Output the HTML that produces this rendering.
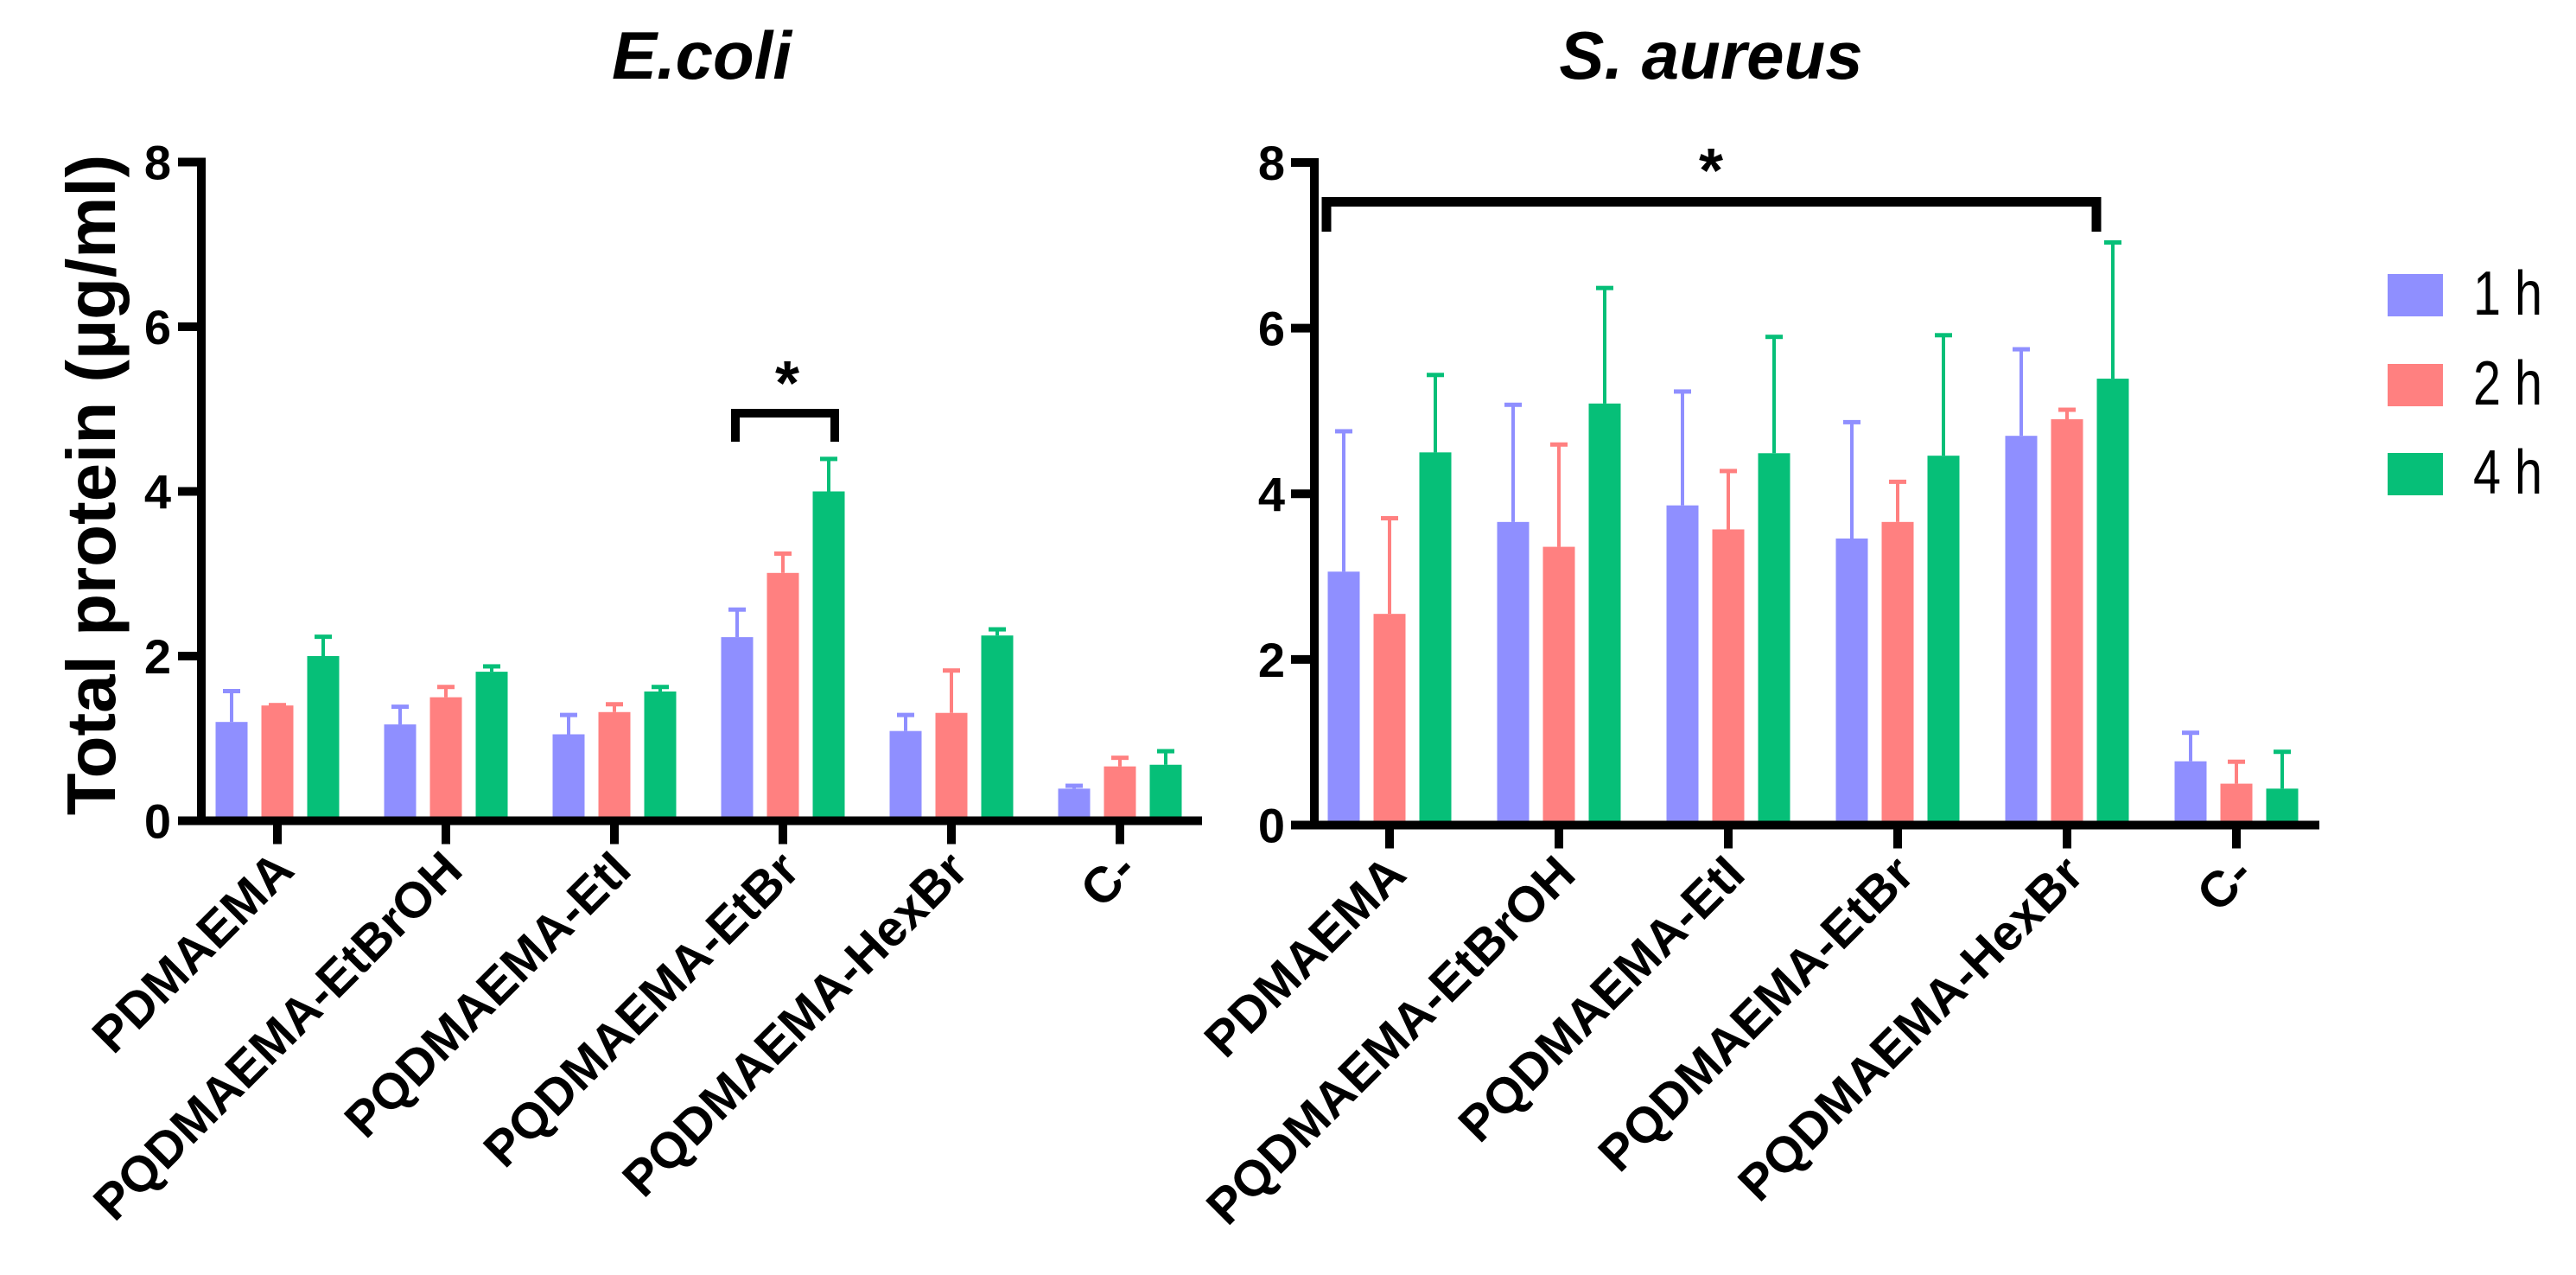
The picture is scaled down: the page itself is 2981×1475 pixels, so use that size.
<!DOCTYPE html>
<html><head><meta charset="utf-8"><style>
html,body{margin:0;padding:0;background:#fff;}
svg{display:block;}
text{font-family:"Liberation Sans",Arial,sans-serif;}
</style></head><body>
<svg id="chart" width="2981" height="1475" viewBox="0 0 2981 1475" xmlns="http://www.w3.org/2000/svg">
<g id="left"></g>
<g id="right"></g>
<g id="legend"></g>
</svg>
<script>
const categories = ["PDMAEMA","PQDMAEMA-EtBrOH","PQDMAEMA-EtI","PQDMAEMA-EtBr","PQDMAEMA-HexBr","C-"];
const seriesNames = ["1 h","2 h","4 h"];
const yTicks = [0,2,4,6,8];
const ecoli1h = [1.20,1.17,1.05,2.23,1.09,0.39];
const ecoli1hErr = [0.38,0.22,0.24,0.34,0.20,0.04];
const ecoli2h = [1.40,1.50,1.32,3.01,1.31,0.66];
const ecoli2hErr = [0.01,0.13,0.10,0.24,0.52,0.11];
const ecoli4h = [2.00,1.81,1.57,4.00,2.25,0.68];
const ecoli4hErr = [0.24,0.07,0.06,0.40,0.08,0.17];
const aureus1h = [3.06,3.66,3.86,3.46,4.70,0.77];
const aureus1hErr = [1.70,1.42,1.38,1.41,1.05,0.35];
const aureus2h = [2.55,3.36,3.57,3.66,4.90,0.50];
const aureus2hErr = [1.16,1.24,0.71,0.49,0.12,0.27];
const aureus4h = [4.50,5.09,4.49,4.46,5.39,0.44];
const aureus4hErr = [0.94,1.40,1.41,1.46,1.65,0.45];

const NS="http://www.w3.org/2000/svg";
const colors=["#8F8FFF","#FF8080","#06BF78"];
function mk(parent,tag,attrs){const e=document.createElementNS(NS,tag);for(const k in attrs)e.setAttribute(k,attrs[k]);parent.appendChild(e);return e;}

function panel(g,cfg,data,errs,prefix){
  const y=v=>cfg.y0-v*(cfg.y0-cfg.y8)/8;
  const xc=i=>cfg.x0+i*cfg.step;
  for(let s=0;s<3;s++){
    for(let i=0;i<categories.length;i++){
      const cx=xc(i)+(s-1)*53, v=data[s][i], e=errs[s][i];
      const l=mk(g,"line",{x1:cx,x2:cx,y1:y(v),y2:y(v+e),stroke:colors[s],"stroke-width":4});
      
      
      const c=mk(g,"rect",{x:cx-10,y:y(v+e)-2,width:20,height:5,fill:colors[s]});
      
      
      const r=mk(g,"rect",{x:cx-18.5,y:y(v),width:37,height:cfg.y0-y(v),fill:colors[s]});
      
      
    }
  }
  const ya=mk(g,"line",{x1:cfg.ax,x2:cfg.ax,y1:cfg.y8-5,y2:cfg.y0+5,stroke:"#000","stroke-width":10});
  
  
  const xa=mk(g,"line",{x1:cfg.ax-27,x2:cfg.xend,y1:cfg.y0,y2:cfg.y0,stroke:"#000","stroke-width":10});
  
  
  yTicks.forEach(t=>{
    const tl=mk(g,"line",{x1:cfg.ax-27,x2:cfg.ax,y1:y(t),y2:y(t),stroke:"#000","stroke-width":10});
    
    
    const tx=mk(g,"text",{x:cfg.lblx,y:y(t)+20,"text-anchor":"end","font-size":56,"font-weight":"bold"});
    tx.textContent=t;
    
    
  });
  categories.forEach((c,i)=>{
    const tl=mk(g,"line",{x1:xc(i),x2:xc(i),y1:cfg.y0,y2:cfg.y0+27,stroke:"#000","stroke-width":10});
    
    
    const tx=mk(g,"text",{x:0,y:0,"text-anchor":"end","font-size":58,"font-weight":"bold",transform:`translate(${xc(i)+22},${cfg.y0+60}) rotate(-45)`});
    tx.textContent=c;
    
    
  });
  const ti=mk(g,"text",{x:cfg.titlex,y:91,"text-anchor":"middle","font-size":78,"font-weight":"bold","font-style":"italic"});
  ti.textContent=cfg.title;
  
  
}

const L=document.getElementById("left"), R=document.getElementById("right");
panel(L,{x0:321,step:195,y0:949.5,y8:187.5,ax:233,xend:1391,lblx:198,titlex:812,title:"E.coli"},
  [ecoli1h,ecoli2h,ecoli4h],[ecoli1hErr,ecoli2hErr,ecoli4hErr],"ecoli");
panel(R,{x0:1608,step:196,y0:954.5,y8:188,ax:1521,xend:2684,lblx:1487,titlex:1980,title:"S. aureus"},
  [aureus1h,aureus2h,aureus4h],[aureus1hErr,aureus2hErr,aureus4hErr],"aureus");

const yt=mk(L,"text",{x:0,y:0,"text-anchor":"middle","font-size":80,"font-weight":"bold",transform:"translate(133,561) rotate(-90)"});
yt.textContent="Total protein (µg/ml)";



const b1=mk(L,"path",{d:"M851,511 L851,478 L966,478 L966,511",fill:"none",stroke:"#000","stroke-width":10});


const s1=mk(L,"text",{x:911,y:468,"text-anchor":"middle","font-size":72,"font-weight":"bold"});
s1.textContent="*";


const b2=mk(R,"path",{d:"M1535,268 L1535,233.5 L2426,233.5 L2426,268",fill:"none",stroke:"#000","stroke-width":11});


const s2=mk(R,"text",{x:1980,y:222,"text-anchor":"middle","font-size":72,"font-weight":"bold"});
s2.textContent="*";



const G=document.getElementById("legend");
const legY=[317,421,524];
seriesNames.forEach((n,i)=>{
  const r=mk(G,"rect",{x:2763,y:legY[i],width:64,height:49,fill:colors[i]});
  
  
  const t=mk(G,"text",{x:0,y:0,"font-size":72,transform:`translate(2862,${legY[i]+47}) scale(0.8,1)`});
  t.textContent=n;
  
  
});
</script>
</body></html>
